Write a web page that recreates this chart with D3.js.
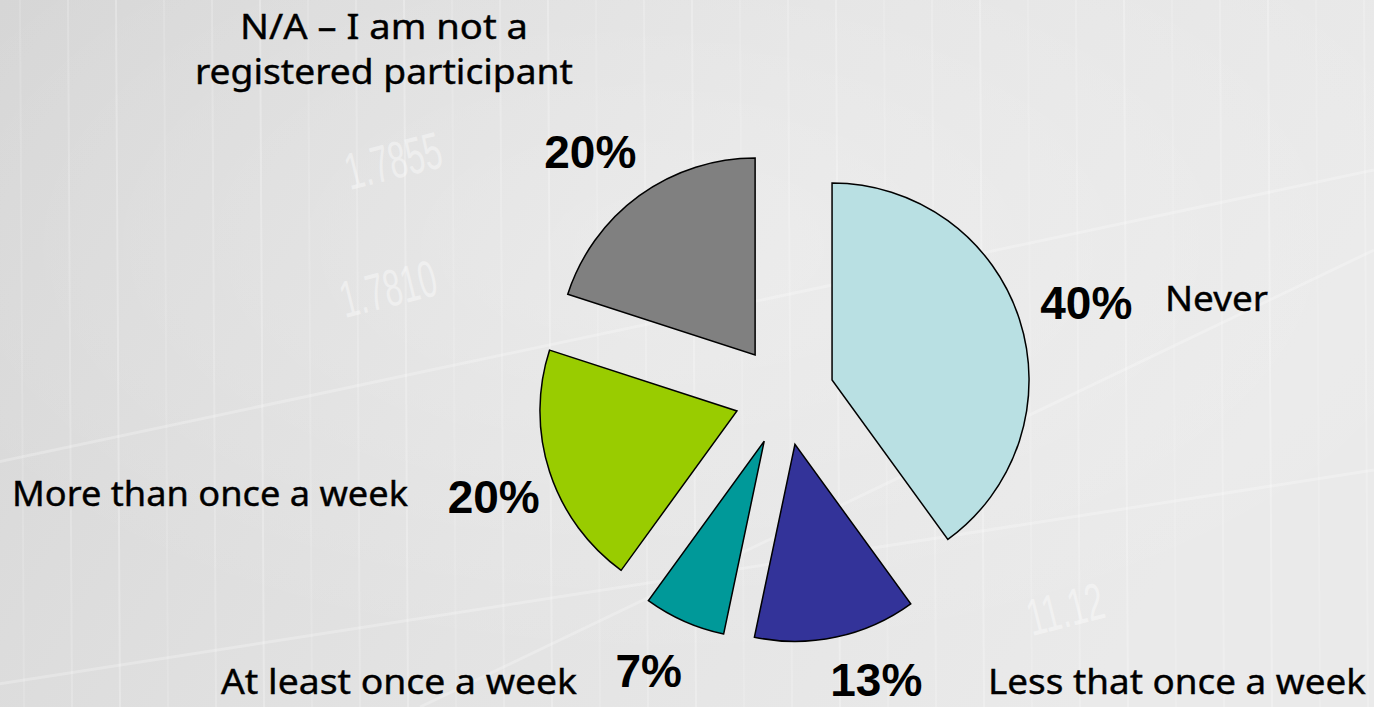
<!doctype html>
<html>
<head>
<meta charset="utf-8">
<style>
    body { margin: 0; background: #e2e2e2; }
    .pct { font-family: "Liberation Sans", Arial, sans-serif; font-weight: bold; font-size: 46px; fill: #000; }
    .cat { font-family: "Noto Sans", sans-serif; font-size: 34px; fill: #000; stroke: #000; stroke-width: 0.4px; }
    .slice { stroke: #000; stroke-width: 1.5; }
</style>
<script src="https://d3js.org/d3.v7.min.js"></script>
</head>
<body>
<svg width="1374" height="707"></svg>
<script>
// survey answers, clockwise from 12 o'clock
var categories = ["Never", "Less that once a week", "At least once a week", "More than once a week", "N/A \u2013 I am not a registered participant"];
var values = [40, 13.3, 6.7, 20, 20];
var pctLabels = ["40%", "13%", "7%", "20%", "20%"];
var colors = ["#b9e0e3", "#333399", "#009999", "#99cc00", "#808080"];

var svg = d3.select("svg"),
    width = +svg.attr("width"),
    height = +svg.attr("height");

// ---- background (light grey trading-screen look) ----
var defs = svg.append("defs");
var bg = defs.append("linearGradient").attr("id", "bg").attr("x1", 0).attr("y1", 0).attr("x2", 1).attr("y2", 0.3);
bg.append("stop").attr("offset", "0%").attr("stop-color", "#d6d6d6");
bg.append("stop").attr("offset", "55%").attr("stop-color", "#e3e3e3");
bg.append("stop").attr("offset", "100%").attr("stop-color", "#eaeaea");
var glow = defs.append("radialGradient").attr("id", "glow").attr("cx", 0.5).attr("cy", 0.35).attr("r", 0.6);
glow.append("stop").attr("offset", "0%").attr("stop-color", "#fff").attr("stop-opacity", 0.3);
glow.append("stop").attr("offset", "100%").attr("stop-color", "#fff").attr("stop-opacity", 0);

svg.append("rect").attr("width", width).attr("height", height).attr("fill", "url(#bg)");
svg.append("rect").attr("width", width).attr("height", height).attr("fill", "url(#glow)");

var deco = svg.append("g").attr("stroke", "#fff").attr("fill", "none");
d3.range(20, width, 48).forEach(function (x, i) {
    deco.append("line")
        .attr("x1", x).attr("x2", x + 4)
        .attr("y1", 0).attr("y2", height)
        .attr("stroke-width", 2)
        .attr("opacity", 0.14 + (i % 3) * 0.06);
});
[[-40, 470, 1374, 170], [-40, 690, 1374, 470], [420, 707, 1374, 250]].forEach(function (l) {
    deco.append("line")
        .attr("x1", l[0]).attr("y1", l[1]).attr("x2", l[2]).attr("y2", l[3])
        .attr("stroke-width", 3).attr("opacity", 0.25);
});
deco.selectAll("text.bgnum")
    .data([["1.7855", 350, 190], ["1.7810", 345, 318], ["11.12", 1032, 636]])
    .enter().append("text")
    .attr("transform", function (d) { return "translate(" + d[1] + "," + d[2] + ") rotate(-14) scale(0.8,1.3)"; })
    .attr("font-family", "Liberation Sans, Arial")
    .attr("font-size", 40)
    .attr("stroke", "none")
    .attr("fill", "#fff")
    .attr("opacity", 0.4)
    .text(function (d) { return d[0]; });

// ---- exploded pie ----
var cx = 784.5, cy = 395.5, radius = 197, explode = 50, labelRadius = 260;

var pie = d3.pie().sort(null).value(function (d) { return d; });
var arcs = pie(values);

var arc = d3.arc().innerRadius(0).outerRadius(radius);
var shift = d3.arc().innerRadius(explode).outerRadius(explode);
var labelArc = d3.arc().innerRadius(labelRadius).outerRadius(labelRadius);

var g = svg.append("g").attr("transform", "translate(" + cx + "," + cy + ")");

g.selectAll(".slice")
 .data(arcs)
 .enter().append("path")
 .attr("class", "slice")
 .attr("fill", function (d, i) { return colors[i]; })
 .attr("transform", function (d) { return "translate(" + shift.centroid(d) + ")"; })
 .attr("d", arc);

// small nudges so the percentages sit where the data labels were
var nudge = [[7, 3], [27, -19], [-10, -8], [4, 5], [-12, 7]];

g.selectAll(".pct")
 .data(arcs)
 .enter().append("text")
 .attr("class", "pct")
 .attr("text-anchor", "middle")
 .attr("dy", "0.36em")
 .attr("x", function (d, i) { return shift.centroid(d)[0] + labelArc.centroid(d)[0] + nudge[i][0]; })
 .attr("y", function (d, i) { return shift.centroid(d)[1] + labelArc.centroid(d)[1] + nudge[i][1]; })
 .text(function (d, i) { return pctLabels[i]; });

// ---- category text boxes ----
var catBoxes = [
    { anchor: "start", x: 1165, y: 311, w: 103, lines: ["Never"] },
    { anchor: "start", x: 988, y: 694, w: 378, lines: ["Less that once a week"] },
    { anchor: "end", x: 577, y: 694, w: 356, lines: ["At least once a week"] },
    { anchor: "end", x: 408, y: 506, w: 396, lines: ["More than once a week"] },
    { anchor: "middle", x: 384, y: 39, w: 288, lines: ["N/A \u2013 I am not a", "registered participant"], w2: 378 }
];

catBoxes.forEach(function (b) {
    b.lines.forEach(function (line, j) {
        svg.append("text")
           .attr("class", "cat")
           .attr("text-anchor", b.anchor)
           .attr("x", b.x)
           .attr("y", b.y + j * 45)
           .attr("textLength", j === 0 ? b.w : b.w2)
           .attr("lengthAdjust", "spacingAndGlyphs")
           .text(line);
    });
});
</script>
</body>
</html>
